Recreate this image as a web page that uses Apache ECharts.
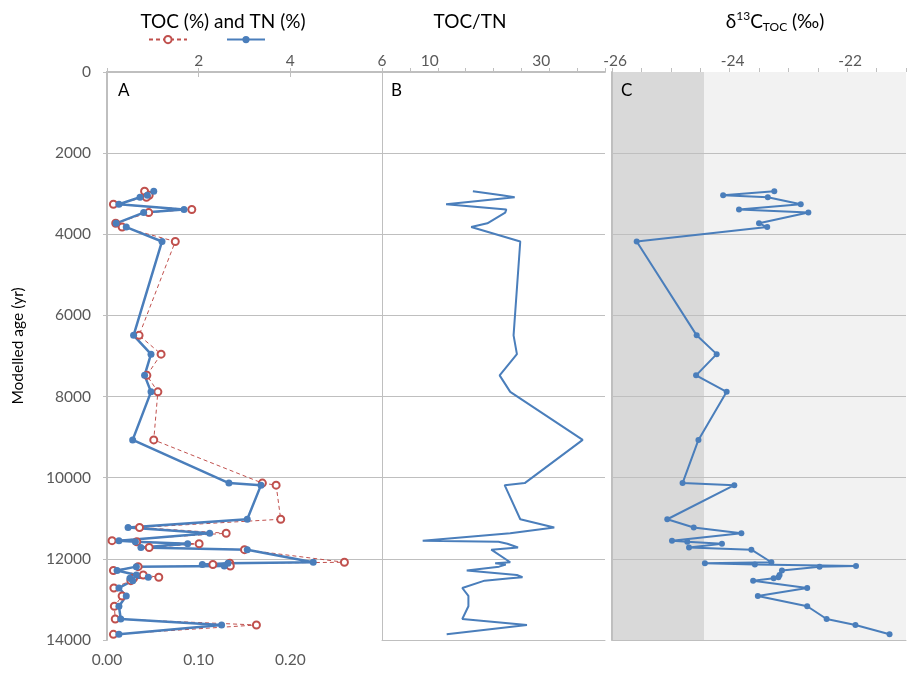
<!DOCTYPE html>
<html>
<head>
<meta charset="utf-8">
<script src="https://cdn.jsdelivr.net/npm/echarts@6/dist/echarts.min.js"></script>
<style>html,body{margin:0;padding:0;background:#fff}#c{width:909px;height:674px}</style>
</head>
<body>
<div id="c"></div>
<script>
// Modelled age (yr) of each sample
const ages = [2940, 3038, 3088, 3260, 3388, 3465, 3729, 3822, 4177, 6491, 6954, 7477, 7884, 9068,
  10133, 10183, 11024, 11226, 11369, 11551, 11578, 11628, 11719, 11773,
  12084, 12109, 12138, 12175, 12192, 12286, 12397, 12454, 12478, 12537,
  12718, 12915, 13169, 13482, 13630, 13860];
// TN (%)
const tn = [0.051, 0.044, 0.036, 0.013, 0.084, 0.040, 0.010, 0.021, 0.060, 0.029, 0.048, 0.041, 0.048, 0.028,
  0.133, 0.168, 0.153, 0.023, 0.112, 0.013, 0.031, 0.088, 0.037, 0.153,
  0.225, 0.132, 0.104, 0.128, 0.032, 0.011, 0.032, 0.045, 0.025, 0.028,
  0.013, 0.021, 0.013, 0.015, 0.125, 0.013];
// TOC (%)
const toc = [0.82, 0.92, 0.86, 0.14, 1.85, 0.91, 0.19, 0.33, 1.49, 0.70, 1.18, 0.87, 1.11, 1.02,
  3.39, 3.69, 3.79, 0.71, 2.60, 0.11, 0.65, 2.01, 0.92, 3.00,
  5.18, 2.68, 2.31, 2.69, 0.68, 0.14, 0.79, 1.13, 0.58, 0.52,
  0.15, 0.33, 0.16, 0.18, 3.26, 0.14];
// TOC/TN
const ratio = [16.3, 21.5, 23.8, 11.5, 22.3, 22.1, 18.9, 16.0, 24.8, 23.6, 24.2, 21.1, 23.0, 36.0,
  25.6, 22.0, 24.8, 30.9, 23.0, 7.3, 20.9, 22.5, 24.4, 19.6,
  23.0, 20.3, 22.2, 22.4, 21.0, 15.2, 24.2, 25.2, 23.0, 18.4,
  14.4, 15.5, 15.5, 14.4, 26.0, 11.6];
// δ13C TOC (‰)
const d13c = [-23.24, -24.11, -23.35, -22.79, -23.84, -22.66, -23.50, -23.36, -25.58, -24.56, -24.22, -24.57, -24.05, -24.53,
  -24.80, -23.92, -25.06, -24.61, -23.80, -24.98, -24.72, -24.13, -24.69, -23.63,
  -23.29, -24.42, -23.57, -21.85, -22.47, -23.11, -23.15, -23.17, -23.25, -23.60,
  -22.68, -23.52, -22.68, -22.35, -21.86, -21.28];
// Tick labels shown
const ageTicks = [0, 2000, 4000, 6000, 8000, 10000, 12000, 14000];
const tocLabels = [2, 4, 6];
const tnLabels = [0, 0.1, 0.2];
const ratioLabels = [10, 30];
const d13cLabels = [-26, -24, -22];

const FONT = 'Lato';
const GRAY = '#BFBFBF';
const LBL = '#595959';
const BLUE = '#4A7EBB';
const RED = '#C0504D';
const TICKFS = 15.5;
const TITLEFS = 19;

const pair = (xs) => xs.map((v, i) => [v, ages[i]]);

const yBase = (gi, extra) => Object.assign({
  type: 'value', gridIndex: gi, min: 0, max: 14000, interval: 2000, inverse: true,
  axisLabel: { show: false },
  axisTick: { show: false },
  splitLine: { show: true, showMinLine: false, showMaxLine: false, lineStyle: { color: GRAY, width: 1 } }
}, extra);

const chart = echarts.init(document.getElementById('c'), null, { renderer: 'canvas' });
chart.setOption({
  animation: false,
  textStyle: { fontFamily: FONT },
  grid: [
    { left: 107, top: 72, width: 275, height: 568 },
    { left: 382, top: 72, width: 223, height: 568 },
    { left: 612, top: 72, width: 307, height: 568, show: true, backgroundColor: '#F2F2F2', borderWidth: 0 },
    { left: 612, top: 72, width: 92, height: 568, show: true, backgroundColor: '#D9D9D9', borderWidth: 0 }
  ],
  legend: {
    left: 143, top: 30, itemWidth: 38, itemHeight: 9, itemGap: 38,
    formatter: () => '', data: ['TOC (%)', 'TN (%)'], selectedMode: false
  },
  xAxis: [
    { // 0: TN bottom
      type: 'value', gridIndex: 0, position: 'bottom', min: 0, max: 0.3, interval: 0.1,
      axisLine: { show: true, lineStyle: { color: GRAY, width: 2 } },
      axisTick: { show: true, length: 5, lineStyle: { color: GRAY } },
      axisLabel: { margin: 12, color: LBL, fontSize: TICKFS, fontFamily: FONT,
        formatter: v => tnLabels.some(t => Math.abs(t - v) < 1e-9) ? v.toFixed(2) : '' },
      splitLine: { show: false }
    },
    { // 1: TOC top
      type: 'value', gridIndex: 0, position: 'top', min: 0, max: 6, interval: 2,
      axisLine: { show: true, lineStyle: { color: GRAY, width: 2 } },
      axisTick: { show: true, length: 4, lineStyle: { color: GRAY } },
      axisLabel: { margin: 3, color: LBL, fontSize: TICKFS, fontFamily: FONT,
        formatter: v => tocLabels.includes(v) ? String(v) : '' },
      splitLine: { show: false }
    },
    { // 2: TOC/TN top
      type: 'value', gridIndex: 1, position: 'top', min: 0, max: 40, interval: 5,
      axisLine: { show: true, lineStyle: { color: GRAY, width: 2 } },
      axisTick: { show: true, length: 4, lineStyle: { color: GRAY } },
      axisLabel: { margin: 3, color: LBL, fontSize: TICKFS, fontFamily: FONT, padding: [0, 16, 0, 0],
        formatter: v => ratioLabels.includes(v) ? String(v) : '' },
      splitLine: { show: false }
    },
    { // 3: TOC/TN bottom line
      type: 'value', gridIndex: 1, position: 'bottom', min: 0, max: 40, interval: 5,
      axisLine: { show: true, lineStyle: { color: GRAY, width: 1 } },
      axisTick: { show: false }, axisLabel: { show: false }, splitLine: { show: false }
    },
    { // 4: d13C top
      type: 'value', gridIndex: 2, position: 'top', min: -26, max: -21, interval: 0.5,
      axisLine: { show: false },
      axisTick: { show: true, length: 4, lineStyle: { color: GRAY } },
      axisLabel: { margin: 3, color: LBL, fontSize: TICKFS, fontFamily: FONT, padding: [0, 0, 0, 6],
        formatter: v => d13cLabels.includes(v) ? String(v) : '' },
      splitLine: { show: false }
    },
    { // 5: d13C bottom line
      type: 'value', gridIndex: 2, position: 'bottom', min: -26, max: -21, interval: 0.5,
      axisLine: { show: true, lineStyle: { color: GRAY, width: 1 } },
      axisTick: { show: false }, axisLabel: { show: false }, splitLine: { show: false }
    },
    { // 6: dummy for shaded band
      type: 'value', gridIndex: 3, min: -26, max: -24.5, show: false
    }
  ],
  yAxis: [
    yBase(0, {
      name: 'Modelled age (yr)', nameLocation: 'middle', nameGap: 81, nameRotate: 90,
      nameTextStyle: { color: '#000', fontSize: 15.5, fontFamily: FONT, padding: [0, 0, 0, 20] },
      axisLine: { show: true, lineStyle: { color: GRAY, width: 2 } },
      axisTick: { show: true, length: 4, lineStyle: { color: GRAY } },
      axisLabel: { show: true, margin: 16, color: LBL, fontSize: TICKFS, fontFamily: FONT,
        formatter: v => ageTicks.includes(v) ? String(v) : '' }
    }),
    yBase(1, { axisLine: { show: true, lineStyle: { color: GRAY, width: 1 } } }),
    yBase(2, { axisLine: { show: true, lineStyle: { color: GRAY, width: 2 } } }),
    { type: 'value', gridIndex: 3, min: 0, max: 14000, inverse: true, show: false, splitLine: { show: false } }
  ],
  series: [
    {
      name: 'TOC (%)', type: 'line', xAxisIndex: 1, yAxisIndex: 0, data: pair(toc),
      symbol: 'emptyCircle', symbolSize: 7,
      lineStyle: { color: RED, width: 1, type: [4, 3] },
      itemStyle: { color: RED, borderColor: RED, borderWidth: 1 }
    },
    {
      name: 'TN (%)', type: 'line', xAxisIndex: 0, yAxisIndex: 0, data: pair(tn),
      symbol: 'circle', symbolSize: 7,
      lineStyle: { color: BLUE, width: 2.5 }, itemStyle: { color: BLUE }
    },
    {
      name: 'TOC/TN', type: 'line', xAxisIndex: 2, yAxisIndex: 1, data: pair(ratio),
      symbol: 'none', lineStyle: { color: BLUE, width: 2 }
    },
    {
      name: 'd13C', type: 'line', xAxisIndex: 4, yAxisIndex: 2, data: pair(d13c),
      symbol: 'circle', symbolSize: 6,
      lineStyle: { color: BLUE, width: 2 }, itemStyle: { color: BLUE }
    }
  ],
  graphic: [
    { type: 'text', x: 223, y: 21.5, style: { text: 'TOC (%) and TN (%)', fontSize: TITLEFS, fontFamily: FONT, fill: '#000', align: 'center', verticalAlign: 'middle' } },
    { type: 'text', x: 470, y: 21.5, style: { text: 'TOC/TN', fontSize: TITLEFS, fontFamily: FONT, fill: '#000', align: 'center', verticalAlign: 'middle' } },
    { type: 'text', x: 775, y: 21.5, style: {
        text: '{n|δ}{sup|13}{n|C}{sub|TOC}{n| (‰)}', align: 'center', verticalAlign: 'middle',
        rich: {
          n: { fontSize: TITLEFS, fontFamily: FONT, fill: '#000' },
          sup: { fontSize: 12, fontFamily: FONT, fill: '#000', padding: [0, 0, 11, 0] },
          sub: { fontSize: 12, fontFamily: FONT, fill: '#000', padding: [11, 0, 0, 0] }
        } } },
    { type: 'text', x: 118, y: 91, style: { text: 'A', fontSize: 17, fontFamily: FONT, fill: '#000', verticalAlign: 'middle' } },
    { type: 'text', x: 391, y: 91, style: { text: 'B', fontSize: 17, fontFamily: FONT, fill: '#000', verticalAlign: 'middle' } },
    { type: 'text', x: 621, y: 91, style: { text: 'C', fontSize: 17, fontFamily: FONT, fill: '#000', verticalAlign: 'middle' } }
  ]
});
</script>
</body>
</html>
